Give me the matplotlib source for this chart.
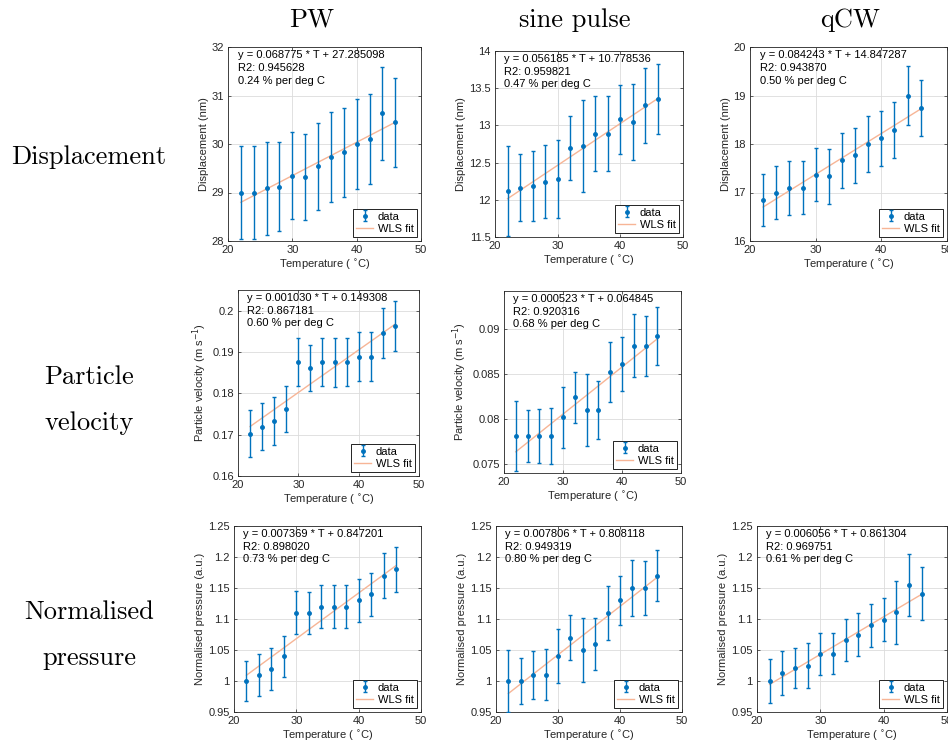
import numpy as np
import matplotlib.pyplot as plt
from matplotlib.ticker import FuncFormatter

plt.rcParams['font.family'] = ['Liberation Sans', 'DejaVu Sans']
plt.rcParams['font.size'] = 8

temps = [22, 24, 26, 28, 30, 32, 34, 36, 38, 40, 42, 44, 46]

# displacement (nm)
pw_disp = [29.0, 29.0, 29.09, 29.12, 29.35, 29.32, 29.54, 29.74, 29.83, 30.0, 30.11, 30.63, 30.45]
pw_disp_err = [0.96, 0.96, 0.96, 0.92, 0.9, 0.89, 0.9, 0.93, 0.92, 0.93, 0.93, 0.95, 0.92]
sine_disp = [12.12, 12.16, 12.18, 12.24, 12.28, 12.70, 12.72, 12.89, 12.89, 13.08, 13.04, 13.27, 13.36]
sine_disp_err = [0.6, 0.45, 0.47, 0.49, 0.52, 0.43, 0.62, 0.5, 0.5, 0.46, 0.51, 0.5, 0.47]
qcw_disp = [16.84, 17.0, 17.09, 17.1, 17.37, 17.33, 17.66, 17.77, 18.0, 18.12, 18.29, 19.0, 18.74]
qcw_disp_err = [0.54, 0.54, 0.55, 0.55, 0.55, 0.56, 0.56, 0.57, 0.57, 0.57, 0.57, 0.6, 0.58]

# particle velocity (m/s)
pw_vel = [0.1702, 0.1719, 0.1733, 0.1762, 0.1875, 0.1861, 0.1875, 0.1875, 0.1875, 0.1889, 0.1889, 0.1946, 0.1963]
pw_vel_err = [0.0057, 0.0057, 0.0057, 0.0056, 0.0058, 0.0056, 0.0058, 0.0059, 0.0058, 0.0059, 0.0059, 0.006, 0.006]
sine_vel = [0.0781, 0.0781, 0.0781, 0.0781, 0.0802, 0.0824, 0.0810, 0.0810, 0.0852, 0.0861, 0.0881, 0.0881, 0.0892]
sine_vel_err = [0.0039, 0.0029, 0.003, 0.0031, 0.0034, 0.0028, 0.004, 0.0032, 0.0033, 0.003, 0.0035, 0.0033, 0.0032]

# normalised pressure (a.u.)
pw_pres = [1.0, 1.01, 1.02, 1.04, 1.11, 1.11, 1.12, 1.12, 1.12, 1.13, 1.14, 1.17, 1.18]
pw_pres_err = [0.033, 0.034, 0.034, 0.033, 0.035, 0.034, 0.035, 0.035, 0.035, 0.035, 0.035, 0.036, 0.036]
sine_pres = [1.0, 1.0, 1.01, 1.01, 1.04, 1.07, 1.05, 1.06, 1.11, 1.13, 1.15, 1.15, 1.17]
sine_pres_err = [0.05, 0.037, 0.039, 0.041, 0.044, 0.036, 0.052, 0.042, 0.044, 0.04, 0.045, 0.043, 0.041]
qcw_pres = [1.0, 1.013, 1.021, 1.025, 1.044, 1.044, 1.066, 1.075, 1.09, 1.099, 1.111, 1.155, 1.141]
qcw_pres_err = [0.035, 0.036, 0.033, 0.036, 0.034, 0.033, 0.034, 0.035, 0.035, 0.035, 0.051, 0.05, 0.043]

# WLS fits: slope, intercept, R2, % per deg C
pw_disp_fit = (0.068775, 27.285098, 0.945628, 0.24)
sine_disp_fit = (0.056185, 10.778536, 0.959821, 0.47)
qcw_disp_fit = (0.084243, 14.847287, 0.943870, 0.50)
pw_vel_fit = (0.001030, 0.149308, 0.867181, 0.60)
sine_vel_fit = (0.000523, 0.064845, 0.920316, 0.68)
pw_pres_fit = (0.007369, 0.847201, 0.898020, 0.73)
sine_pres_fit = (0.007806, 0.808118, 0.949319, 0.80)
qcw_pres_fit = (0.006056, 0.861304, 0.969751, 0.61)

col_titles = ['PW', 'sine pulse', 'qCW']
row_titles = ['Displacement', 'Particle\nvelocity', 'Normalised\npressure']

disp_label = 'Displacement (nm)'
vel_label = 'Particle velocity (m s$^{-1}$)'
pres_label = 'Normalised pressure (a.u.)'
pres_ticks = [0.95, 1.0, 1.05, 1.1, 1.15, 1.2, 1.25]

W, H = 948, 748

def rect(x0, y0, x1, y1):
    return [x0 / W, 1 - y1 / H, (x1 - x0) / W, (y1 - y0) / H]

panels = [
    (rect(228, 47, 421, 241), pw_disp, pw_disp_err, pw_disp_fit, (28, 32), [28, 29, 30, 31, 32], disp_label),
    (rect(495, 51, 683, 237), sine_disp, sine_disp_err, sine_disp_fit, (11.5, 14), [11.5, 12, 12.5, 13, 13.5, 14], disp_label),
    (rect(750, 47, 947, 241), qcw_disp, qcw_disp_err, qcw_disp_fit, (16, 20), [16, 17, 18, 19, 20], disp_label),
    (rect(238, 290, 419, 476), pw_vel, pw_vel_err, pw_vel_fit, (0.16, 0.205), [0.16, 0.17, 0.18, 0.19, 0.2], vel_label),
    (rect(504, 291, 681, 473), sine_vel, sine_vel_err, sine_vel_fit, (0.074, 0.0942), [0.075, 0.08, 0.085, 0.09], vel_label),
    (rect(234, 526, 421, 712), pw_pres, pw_pres_err, pw_pres_fit, (0.95, 1.25), pres_ticks, pres_label),
    (rect(496, 526, 682, 712), sine_pres, sine_pres_err, sine_pres_fit, (0.95, 1.25), pres_ticks, pres_label),
    (rect(757, 526, 947, 712), qcw_pres, qcw_pres_err, qcw_pres_fit, (0.95, 1.25), pres_ticks, pres_label),
]

blue = '#0072BD'
orange = '#F7B596'
dark = '#262626'

fmt = FuncFormatter(lambda v, p: f'{round(v, 6):g}')

fig = plt.figure(figsize=(W / 100, H / 100), dpi=100)

for pos, vals, errs, fit, ylim, yticks, ylabel in panels:
    ax = fig.add_axes(pos)
    slope, icpt, r2, pct = fit
    t = np.array(temps)
    eb = ax.errorbar(t, vals, yerr=errs, fmt='.', color=blue, ms=5, elinewidth=1,
                     capsize=1.5, capthick=1, label='data', zorder=3)
    ln, = ax.plot(t, slope * t + icpt, color=orange, lw=1, label='WLS fit', zorder=2)
    ax.set_xlim(20, 50)
    ax.set_ylim(*ylim)
    ax.set_xticks([20, 30, 40, 50])
    ax.set_yticks(yticks)
    ax.yaxis.set_major_formatter(fmt)
    ax.grid(True, color='#DCDCDC', lw=0.6)
    ax.set_axisbelow(True)
    for s in ax.spines.values():
        s.set_color(dark)
        s.set_linewidth(0.6)
    ax.tick_params(direction='in', length=2.5, width=0.5, colors=dark,
                   labelsize=8, top=True, right=True, pad=3)
    ax.set_xlabel('Temperature ( $^{\\circ}$C)', color=dark, fontsize=8, labelpad=2)
    ax.set_ylabel(ylabel, color=dark, fontsize=8, labelpad=2)
    ax.text(0.05, 0.985, f'y = {slope:.6f} * T + {icpt:.6f}\nR2: {r2:.6f}\n{pct:.2f} % per deg C',
            transform=ax.transAxes, va='top', ha='left', fontsize=8, linespacing=1.35)
    leg = ax.legend([eb, ln], ['data', 'WLS fit'], loc='lower right', fontsize=8,
                    fancybox=False, framealpha=1, edgecolor='black', handlelength=1.6,
                    handletextpad=0.4, borderpad=0.25, labelspacing=0.2, borderaxespad=0.4)
    leg.get_frame().set_linewidth(0.6)

for x, s in zip([312, 575, 850], col_titles):
    fig.text(x / W, 1 - 20 / H, s, ha='center', va='center', family='cmr10', fontsize=19)
for y, s in zip([157, 400, 635], row_titles):
    fig.text(89 / W, 1 - y / H, s, ha='center', va='center', family='cmr10',
             fontsize=19, linespacing=2.2)

fig.savefig('out.png', dpi=100)
